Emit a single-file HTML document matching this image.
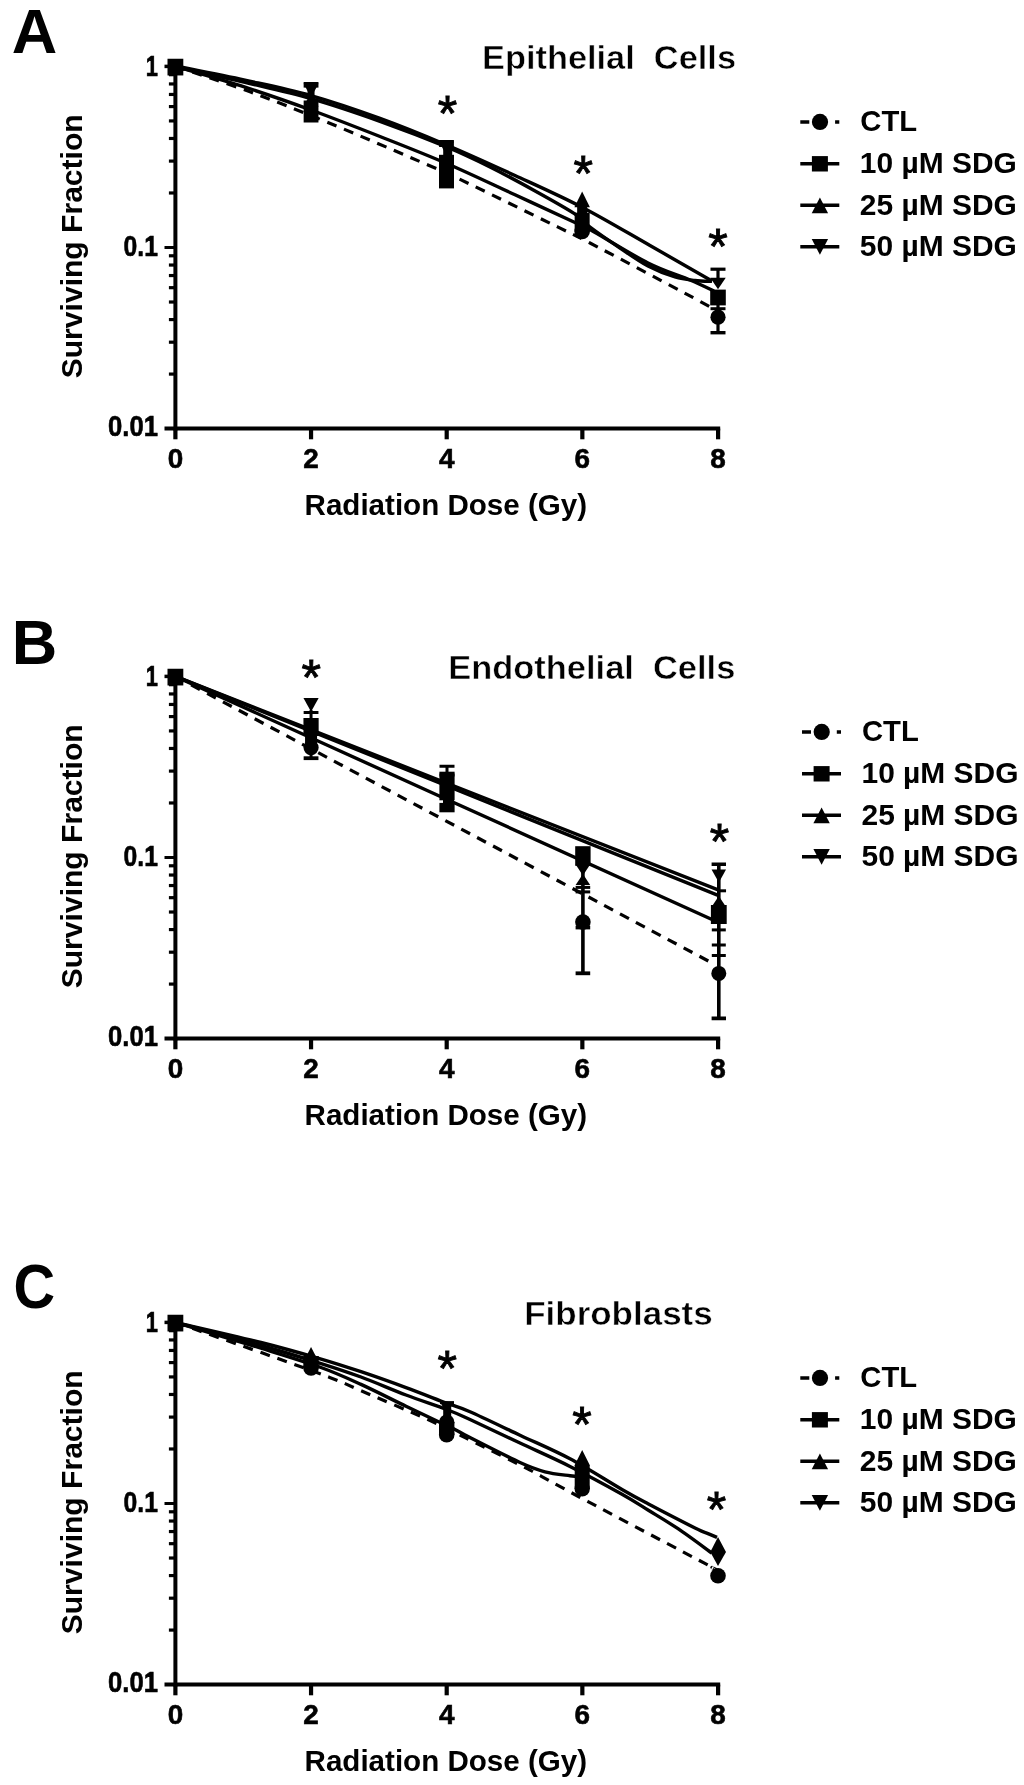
<!DOCTYPE html><html><head><meta charset="utf-8"><title>Surviving Fraction</title>
<style>html,body{margin:0;padding:0;background:#fff;width:1024px;height:1785px;overflow:hidden}svg{display:block;will-change:transform;opacity:0.999;filter:blur(0.6px)}</style></head><body>
<svg width="1024" height="1785" viewBox="0 0 1024 1785" font-family="Liberation Sans, Arial, Helvetica, sans-serif" fill="#000">
<rect width="1024" height="1785" fill="#fff"/>
<g transform="translate(0 0)">
<text x="11.80" y="52.70" font-size="63.00" font-weight="bold" text-anchor="start" >A</text>
<path d="M175.40 64.60 V430.60" stroke="#000" stroke-width="4" fill="none"/>
<path d="M164.50 428.60 H720.20" stroke="#000" stroke-width="4" fill="none"/>
<path d="M164.5 66.40 H175.40" stroke="#000" stroke-width="3.5" fill="none"/>
<path d="M164.5 247.50 H175.40" stroke="#000" stroke-width="3.0" fill="none"/>
<path d="M168.9 192.98 H175.40" stroke="#000" stroke-width="3.2" fill="none"/>
<path d="M168.9 161.09 H175.40" stroke="#000" stroke-width="3.2" fill="none"/>
<path d="M168.9 138.47 H175.40" stroke="#000" stroke-width="3.2" fill="none"/>
<path d="M168.9 120.92 H175.40" stroke="#000" stroke-width="3.2" fill="none"/>
<path d="M168.9 106.58 H175.40" stroke="#000" stroke-width="3.2" fill="none"/>
<path d="M168.9 94.45 H175.40" stroke="#000" stroke-width="3.2" fill="none"/>
<path d="M168.9 83.95 H175.40" stroke="#000" stroke-width="3.2" fill="none"/>
<path d="M168.9 74.69 H175.40" stroke="#000" stroke-width="3.2" fill="none"/>
<path d="M168.9 374.08 H175.40" stroke="#000" stroke-width="3.2" fill="none"/>
<path d="M168.9 342.19 H175.40" stroke="#000" stroke-width="3.2" fill="none"/>
<path d="M168.9 319.57 H175.40" stroke="#000" stroke-width="3.2" fill="none"/>
<path d="M168.9 302.02 H175.40" stroke="#000" stroke-width="3.2" fill="none"/>
<path d="M168.9 287.68 H175.40" stroke="#000" stroke-width="3.2" fill="none"/>
<path d="M168.9 275.55 H175.40" stroke="#000" stroke-width="3.2" fill="none"/>
<path d="M168.9 265.05 H175.40" stroke="#000" stroke-width="3.2" fill="none"/>
<path d="M168.9 255.79 H175.40" stroke="#000" stroke-width="3.2" fill="none"/>
<path d="M175.40 428.60 V439.30" stroke="#000" stroke-width="4.2" fill="none"/>
<text x="175.40" y="467.90" font-size="28.20" font-weight="bold" text-anchor="middle" textLength="15.50" lengthAdjust="spacingAndGlyphs" stroke="#000" stroke-width="0.6">0</text>
<path d="M311.05 428.60 V439.30" stroke="#000" stroke-width="4.2" fill="none"/>
<text x="311.05" y="467.90" font-size="28.20" font-weight="bold" text-anchor="middle" textLength="15.50" lengthAdjust="spacingAndGlyphs" stroke="#000" stroke-width="0.6">2</text>
<path d="M446.70 428.60 V439.30" stroke="#000" stroke-width="4.2" fill="none"/>
<text x="446.70" y="467.90" font-size="28.20" font-weight="bold" text-anchor="middle" textLength="15.50" lengthAdjust="spacingAndGlyphs" stroke="#000" stroke-width="0.6">4</text>
<path d="M582.35 428.60 V439.30" stroke="#000" stroke-width="4.2" fill="none"/>
<text x="582.35" y="467.90" font-size="28.20" font-weight="bold" text-anchor="middle" textLength="15.50" lengthAdjust="spacingAndGlyphs" stroke="#000" stroke-width="0.6">6</text>
<path d="M718.10 428.60 V439.30" stroke="#000" stroke-width="4.2" fill="none"/>
<text x="718.00" y="467.90" font-size="28.20" font-weight="bold" text-anchor="middle" textLength="15.50" lengthAdjust="spacingAndGlyphs" stroke="#000" stroke-width="0.6">8</text>
<text x="157.90" y="75.80" font-size="29.60" font-weight="bold" text-anchor="end" textLength="12.20" lengthAdjust="spacingAndGlyphs" stroke="#000" stroke-width="0.6">1</text>
<text x="157.90" y="255.60" font-size="29.60" font-weight="bold" text-anchor="end" textLength="34.30" lengthAdjust="spacingAndGlyphs" stroke="#000" stroke-width="0.6">0.1</text>
<text x="157.90" y="436.40" font-size="29.60" font-weight="bold" text-anchor="end" textLength="49.90" lengthAdjust="spacingAndGlyphs" stroke="#000" stroke-width="0.6">0.01</text>
<text x="0.00" y="0.00" font-size="30.40" font-weight="bold" text-anchor="middle" textLength="264.00" lengthAdjust="spacingAndGlyphs" transform="translate(81.6 246.3) rotate(-90)">Surviving Fraction</text>
<text x="445.80" y="515.00" font-size="29.60" font-weight="bold" text-anchor="middle" textLength="282.50" lengthAdjust="spacingAndGlyphs" >Radiation Dose (Gy)</text>
<g transform="translate(0.00 0)">
<path d="M800.3 121.90 H839.3" stroke="#000" stroke-width="3.5" stroke-dasharray="9 8.4" fill="none"/>
<circle cx="820.00" cy="121.90" r="8.10"/>
<text x="860.30" y="131.30" font-size="29.40" font-weight="bold" text-anchor="start" textLength="56.80" lengthAdjust="spacingAndGlyphs" >CTL</text>
<path d="M800.3 163.70 H839.3" stroke="#000" stroke-width="3.5" fill="none"/>
<rect x="811.90" y="156.10" width="16.00" height="15.40"/>
<text x="859.80" y="173.10" font-size="29.40" font-weight="bold" text-anchor="start" textLength="157.00" lengthAdjust="spacingAndGlyphs" >10 µM SDG</text>
<path d="M800.3 205.30 H839.3" stroke="#000" stroke-width="3.5" fill="none"/>
<path d="M819.90 197.60 L828.10 213.20 L811.70 213.20Z"/>
<text x="859.80" y="214.70" font-size="29.40" font-weight="bold" text-anchor="start" textLength="157.00" lengthAdjust="spacingAndGlyphs" >25 µM SDG</text>
<path d="M800.3 246.80 H839.3" stroke="#000" stroke-width="3.5" fill="none"/>
<path d="M819.90 254.80 L828.10 239.00 L811.70 239.00Z"/>
<text x="859.80" y="256.20" font-size="29.40" font-weight="bold" text-anchor="start" textLength="157.00" lengthAdjust="spacingAndGlyphs" >50 µM SDG</text>
</g>
<text x="482.00" y="69.20" font-size="33.60" font-weight="bold" text-anchor="start" textLength="254.00" lengthAdjust="spacingAndGlyphs" stroke="#fff" stroke-width="0.5" style="white-space:pre" xml:space="preserve">Epithelial  Cells</text>
<path d="M175.40 66.00 C187.00 68.37 222.40 75.27 245.00 80.20 C267.60 85.13 288.50 89.23 311.00 95.60 C333.50 101.97 357.38 110.17 380.00 118.40 C402.62 126.63 424.20 135.48 446.70 145.00 C469.20 154.52 492.45 165.13 515.00 175.50 C537.55 185.87 559.50 195.53 582.00 207.20 C604.50 218.87 628.33 233.20 650.00 245.50 C671.67 257.80 701.67 275.08 712.00 281.00" fill="none" stroke="#000" stroke-width="3.40"/>
<path d="M175.40 66.80 C187.00 69.40 222.40 77.10 245.00 82.40 C267.60 87.70 288.50 92.12 311.00 98.60 C333.50 105.08 357.38 113.23 380.00 121.30 C402.62 129.37 428.37 139.38 446.70 147.00 C465.03 154.62 475.49 159.80 490.00 167.00 C504.51 174.20 519.68 182.43 533.75 190.20 C547.82 197.97 565.02 207.47 574.40 213.60 C583.77 219.73 582.40 221.27 590.00 227.00 C597.60 232.73 610.33 241.50 620.00 248.00 C629.67 254.50 638.83 261.17 648.00 266.00 C657.17 270.83 667.17 274.58 675.00 277.00 C682.83 279.42 688.83 279.77 695.00 280.50 C701.17 281.23 709.17 281.25 712.00 281.40" fill="none" stroke="#000" stroke-width="3.40"/>
<path d="M175.40 66.40 C187.00 69.87 222.40 79.93 245.00 87.20 C267.60 94.47 288.50 101.78 311.00 110.00 C333.50 118.22 357.38 127.58 380.00 136.50 C402.62 145.42 424.20 153.78 446.70 163.50 C469.20 173.22 493.72 185.02 515.00 194.80 C536.28 204.58 561.90 216.42 574.40 222.20 C586.90 227.98 577.73 222.70 590.00 229.50 C602.27 236.30 631.33 254.58 648.00 263.00 C664.67 271.42 679.00 275.33 690.00 280.00 C701.00 284.67 710.00 289.17 714.00 291.00" fill="none" stroke="#000" stroke-width="3.40"/>
<path d="M175.40 66.40 C187.83 70.63 224.28 82.33 250.00 91.80 C275.72 101.27 300.03 111.00 329.70 123.20 C359.37 135.40 406.78 155.88 428.00 165.00 C449.22 174.12 435.40 167.58 457.00 177.90 C478.60 188.22 535.43 216.05 557.60 226.90 C579.77 237.75 569.53 232.35 590.00 243.00 C610.47 253.65 660.07 279.97 680.40 290.80 C700.73 301.63 706.73 305.13 712.00 308.00" fill="none" stroke="#000" stroke-width="3.20" stroke-dasharray="10 8"/>
<rect x="167.50" y="58.75" width="15.80" height="16.70"/>
<path d="M311.05 97.50 L318.55 83.50 L303.55 83.50Z"/>
<rect x="303.65" y="82.00" width="14.80" height="5.60"/>
<rect x="307.55" y="87.00" width="7.00" height="10.00"/>
<path d="M311.05 92.50 L318.55 106.50 L303.55 106.50Z"/>
<rect x="303.65" y="100.50" width="14.80" height="22.00"/>
<path d="M446.50 155.50 L454.00 141.50 L439.00 141.50Z"/>
<rect x="439.10" y="140.00" width="14.80" height="7.00"/>
<rect x="443.20" y="144.00" width="9.00" height="12.00"/>
<rect x="439.00" y="154.80" width="15.00" height="33.60"/>
<path d="M582.15 191.60 L589.90 207.20 L574.40 207.20Z"/>
<rect x="577.15" y="207.00" width="10.00" height="6.00"/>
<rect x="574.65" y="212.70" width="15.00" height="18.60"/>
<circle cx="582.15" cy="231.40" r="7.80"/>
<path d="M710.50 269.20 H725.50" fill="none" stroke="#000" stroke-width="3.20"/>
<path d="M718.00 269.20 V285.00" fill="none" stroke="#000" stroke-width="3.20"/>
<path d="M718.00 289.15 L725.75 277.65 L710.25 277.65Z"/>
<rect x="710.20" y="289.60" width="15.60" height="15.80"/>
<path d="M710.50 308.70 H725.50" fill="none" stroke="#000" stroke-width="3.00"/>
<circle cx="718.00" cy="317.20" r="7.60"/>
<path d="M718.00 300.00 V332.70" fill="none" stroke="#000" stroke-width="3.20"/>
<path d="M710.50 332.70 H725.50" fill="none" stroke="#000" stroke-width="3.40"/>
<text x="447.40" y="131.20" font-size="50.00" font-weight="normal" text-anchor="middle" stroke="#000" stroke-width="0.9">*</text>
<text x="583.20" y="191.30" font-size="50.00" font-weight="normal" text-anchor="middle" stroke="#000" stroke-width="0.9">*</text>
<text x="718.00" y="264.10" font-size="50.00" font-weight="normal" text-anchor="middle" stroke="#000" stroke-width="0.9">*</text>
</g>
<g transform="translate(0 610)">
<text x="11.80" y="54.20" font-size="63.00" font-weight="bold" text-anchor="start" >B</text>
<path d="M175.40 64.60 V430.60" stroke="#000" stroke-width="4" fill="none"/>
<path d="M164.50 428.60 H720.20" stroke="#000" stroke-width="4" fill="none"/>
<path d="M164.5 66.40 H175.40" stroke="#000" stroke-width="3.5" fill="none"/>
<path d="M164.5 247.50 H175.40" stroke="#000" stroke-width="3.0" fill="none"/>
<path d="M168.9 192.98 H175.40" stroke="#000" stroke-width="3.2" fill="none"/>
<path d="M168.9 161.09 H175.40" stroke="#000" stroke-width="3.2" fill="none"/>
<path d="M168.9 138.47 H175.40" stroke="#000" stroke-width="3.2" fill="none"/>
<path d="M168.9 120.92 H175.40" stroke="#000" stroke-width="3.2" fill="none"/>
<path d="M168.9 106.58 H175.40" stroke="#000" stroke-width="3.2" fill="none"/>
<path d="M168.9 94.45 H175.40" stroke="#000" stroke-width="3.2" fill="none"/>
<path d="M168.9 83.95 H175.40" stroke="#000" stroke-width="3.2" fill="none"/>
<path d="M168.9 74.69 H175.40" stroke="#000" stroke-width="3.2" fill="none"/>
<path d="M168.9 374.08 H175.40" stroke="#000" stroke-width="3.2" fill="none"/>
<path d="M168.9 342.19 H175.40" stroke="#000" stroke-width="3.2" fill="none"/>
<path d="M168.9 319.57 H175.40" stroke="#000" stroke-width="3.2" fill="none"/>
<path d="M168.9 302.02 H175.40" stroke="#000" stroke-width="3.2" fill="none"/>
<path d="M168.9 287.68 H175.40" stroke="#000" stroke-width="3.2" fill="none"/>
<path d="M168.9 275.55 H175.40" stroke="#000" stroke-width="3.2" fill="none"/>
<path d="M168.9 265.05 H175.40" stroke="#000" stroke-width="3.2" fill="none"/>
<path d="M168.9 255.79 H175.40" stroke="#000" stroke-width="3.2" fill="none"/>
<path d="M175.40 428.60 V439.30" stroke="#000" stroke-width="4.2" fill="none"/>
<text x="175.40" y="467.90" font-size="28.20" font-weight="bold" text-anchor="middle" textLength="15.50" lengthAdjust="spacingAndGlyphs" stroke="#000" stroke-width="0.6">0</text>
<path d="M311.05 428.60 V439.30" stroke="#000" stroke-width="4.2" fill="none"/>
<text x="311.05" y="467.90" font-size="28.20" font-weight="bold" text-anchor="middle" textLength="15.50" lengthAdjust="spacingAndGlyphs" stroke="#000" stroke-width="0.6">2</text>
<path d="M446.70 428.60 V439.30" stroke="#000" stroke-width="4.2" fill="none"/>
<text x="446.70" y="467.90" font-size="28.20" font-weight="bold" text-anchor="middle" textLength="15.50" lengthAdjust="spacingAndGlyphs" stroke="#000" stroke-width="0.6">4</text>
<path d="M582.35 428.60 V439.30" stroke="#000" stroke-width="4.2" fill="none"/>
<text x="582.35" y="467.90" font-size="28.20" font-weight="bold" text-anchor="middle" textLength="15.50" lengthAdjust="spacingAndGlyphs" stroke="#000" stroke-width="0.6">6</text>
<path d="M718.10 428.60 V439.30" stroke="#000" stroke-width="4.2" fill="none"/>
<text x="718.00" y="467.90" font-size="28.20" font-weight="bold" text-anchor="middle" textLength="15.50" lengthAdjust="spacingAndGlyphs" stroke="#000" stroke-width="0.6">8</text>
<text x="157.90" y="75.80" font-size="29.60" font-weight="bold" text-anchor="end" textLength="12.20" lengthAdjust="spacingAndGlyphs" stroke="#000" stroke-width="0.6">1</text>
<text x="157.90" y="255.60" font-size="29.60" font-weight="bold" text-anchor="end" textLength="34.30" lengthAdjust="spacingAndGlyphs" stroke="#000" stroke-width="0.6">0.1</text>
<text x="157.90" y="436.40" font-size="29.60" font-weight="bold" text-anchor="end" textLength="49.90" lengthAdjust="spacingAndGlyphs" stroke="#000" stroke-width="0.6">0.01</text>
<text x="0.00" y="0.00" font-size="30.40" font-weight="bold" text-anchor="middle" textLength="264.00" lengthAdjust="spacingAndGlyphs" transform="translate(81.6 246.3) rotate(-90)">Surviving Fraction</text>
<text x="445.80" y="515.00" font-size="29.60" font-weight="bold" text-anchor="middle" textLength="282.50" lengthAdjust="spacingAndGlyphs" >Radiation Dose (Gy)</text>
<g transform="translate(1.70 0)">
<path d="M800.3 121.90 H839.3" stroke="#000" stroke-width="3.5" stroke-dasharray="9 8.4" fill="none"/>
<circle cx="820.00" cy="121.90" r="8.10"/>
<text x="860.30" y="131.30" font-size="29.40" font-weight="bold" text-anchor="start" textLength="56.80" lengthAdjust="spacingAndGlyphs" >CTL</text>
<path d="M800.3 163.70 H839.3" stroke="#000" stroke-width="3.5" fill="none"/>
<rect x="811.90" y="156.10" width="16.00" height="15.40"/>
<text x="859.80" y="173.10" font-size="29.40" font-weight="bold" text-anchor="start" textLength="157.00" lengthAdjust="spacingAndGlyphs" >10 µM SDG</text>
<path d="M800.3 205.30 H839.3" stroke="#000" stroke-width="3.5" fill="none"/>
<path d="M819.90 197.60 L828.10 213.20 L811.70 213.20Z"/>
<text x="859.80" y="214.70" font-size="29.40" font-weight="bold" text-anchor="start" textLength="157.00" lengthAdjust="spacingAndGlyphs" >25 µM SDG</text>
<path d="M800.3 246.80 H839.3" stroke="#000" stroke-width="3.5" fill="none"/>
<path d="M819.90 254.80 L828.10 239.00 L811.70 239.00Z"/>
<text x="859.80" y="256.20" font-size="29.40" font-weight="bold" text-anchor="start" textLength="157.00" lengthAdjust="spacingAndGlyphs" >50 µM SDG</text>
</g>
<text x="448.30" y="69.40" font-size="33.60" font-weight="bold" text-anchor="start" textLength="287.00" lengthAdjust="spacingAndGlyphs" stroke="#fff" stroke-width="0.5" style="white-space:pre" xml:space="preserve">Endothelial  Cells</text>
<path d="M175.40 66.40 C265.75 101.93 627.15 244.07 717.50 279.61" fill="none" stroke="#000" stroke-width="3.40"/>
<path d="M175.40 66.40 C265.75 102.85 627.15 248.64 717.50 285.08" fill="none" stroke="#000" stroke-width="3.40"/>
<path d="M175.40 66.40 C264.83 106.91 622.57 268.97 712.00 309.48" fill="none" stroke="#000" stroke-width="3.40"/>
<path d="M175.40 66.40 C264.50 113.98 620.90 304.30 710.00 351.88" fill="none" stroke="#000" stroke-width="3.20" stroke-dasharray="10 8"/>
<rect x="167.50" y="58.75" width="15.80" height="16.70"/>
<path d="M311.05 101.80 L318.65 88.00 L303.45 88.00Z"/>
<path d="M303.65 102.50 H318.45" fill="none" stroke="#000" stroke-width="3.00"/>
<path d="M311.05 100.00 V148.00" fill="none" stroke="#000" stroke-width="3.00"/>
<rect x="303.45" y="108.00" width="15.20" height="18.00"/>
<circle cx="311.05" cy="137.60" r="7.60"/>
<rect x="305.05" y="125.00" width="12.00" height="12.00"/>
<path d="M303.65 148.20 H318.45" fill="none" stroke="#000" stroke-width="3.80"/>
<path d="M447.00 156.20 V165.00 M439.50 156.20 H454.50 M439.50 165.00 H454.50" fill="none" stroke="#000" stroke-width="3.00"/>
<rect x="439.40" y="161.70" width="15.20" height="28.60"/>
<rect x="443.00" y="188.00" width="11.00" height="6.00"/>
<rect x="439.40" y="192.90" width="15.20" height="9.40"/>
<rect x="575.20" y="236.20" width="15.40" height="19.60"/>
<path d="M582.90 265.50 L590.15 254.50 L575.65 254.50Z"/>
<path d="M582.90 264.00 L590.15 275.00 L575.65 275.00Z"/>
<path d="M575.60 277.40 H590.20" fill="none" stroke="#000" stroke-width="3.00"/>
<path d="M575.60 281.90 H590.20" fill="none" stroke="#000" stroke-width="3.00"/>
<path d="M582.90 262.00 V363.30" fill="none" stroke="#000" stroke-width="3.60"/>
<path d="M575.60 363.30 H590.20" fill="none" stroke="#000" stroke-width="3.80"/>
<circle cx="582.90" cy="312.00" r="7.80"/>
<path d="M575.60 317.60 H590.20" fill="none" stroke="#000" stroke-width="3.60"/>
<path d="M718.80 254.30 V408.40 M711.60 254.30 H726.00 M711.60 408.40 H726.00" fill="none" stroke="#000" stroke-width="3.60"/>
<path d="M718.80 272.50 L726.05 259.50 L711.55 259.50Z"/>
<path d="M718.55 280.80 H726.05" fill="none" stroke="#000" stroke-width="3.00"/>
<path d="M718.80 286.00 L726.05 297.00 L711.55 297.00Z"/>
<rect x="710.90" y="295.00" width="15.80" height="19.00"/>
<path d="M711.80 319.90 H725.80" fill="none" stroke="#000" stroke-width="3.00"/>
<path d="M711.80 335.00 H725.80" fill="none" stroke="#000" stroke-width="3.00"/>
<path d="M711.80 345.50 H725.80" fill="none" stroke="#000" stroke-width="3.00"/>
<circle cx="718.80" cy="363.40" r="7.50"/>
<text x="311.20" y="85.10" font-size="50.00" font-weight="normal" text-anchor="middle" stroke="#000" stroke-width="0.9">*</text>
<text x="719.40" y="248.90" font-size="50.00" font-weight="normal" text-anchor="middle" stroke="#000" stroke-width="0.9">*</text>
</g>
<g transform="translate(0 1256)">
<text x="13.60" y="51.80" font-size="63.00" font-weight="bold" text-anchor="start" textLength="41.60" lengthAdjust="spacingAndGlyphs" >C</text>
<path d="M175.40 64.60 V430.60" stroke="#000" stroke-width="4" fill="none"/>
<path d="M164.50 428.60 H720.20" stroke="#000" stroke-width="4" fill="none"/>
<path d="M164.5 66.40 H175.40" stroke="#000" stroke-width="3.5" fill="none"/>
<path d="M164.5 247.50 H175.40" stroke="#000" stroke-width="3.0" fill="none"/>
<path d="M168.9 192.98 H175.40" stroke="#000" stroke-width="3.2" fill="none"/>
<path d="M168.9 161.09 H175.40" stroke="#000" stroke-width="3.2" fill="none"/>
<path d="M168.9 138.47 H175.40" stroke="#000" stroke-width="3.2" fill="none"/>
<path d="M168.9 120.92 H175.40" stroke="#000" stroke-width="3.2" fill="none"/>
<path d="M168.9 106.58 H175.40" stroke="#000" stroke-width="3.2" fill="none"/>
<path d="M168.9 94.45 H175.40" stroke="#000" stroke-width="3.2" fill="none"/>
<path d="M168.9 83.95 H175.40" stroke="#000" stroke-width="3.2" fill="none"/>
<path d="M168.9 74.69 H175.40" stroke="#000" stroke-width="3.2" fill="none"/>
<path d="M168.9 374.08 H175.40" stroke="#000" stroke-width="3.2" fill="none"/>
<path d="M168.9 342.19 H175.40" stroke="#000" stroke-width="3.2" fill="none"/>
<path d="M168.9 319.57 H175.40" stroke="#000" stroke-width="3.2" fill="none"/>
<path d="M168.9 302.02 H175.40" stroke="#000" stroke-width="3.2" fill="none"/>
<path d="M168.9 287.68 H175.40" stroke="#000" stroke-width="3.2" fill="none"/>
<path d="M168.9 275.55 H175.40" stroke="#000" stroke-width="3.2" fill="none"/>
<path d="M168.9 265.05 H175.40" stroke="#000" stroke-width="3.2" fill="none"/>
<path d="M168.9 255.79 H175.40" stroke="#000" stroke-width="3.2" fill="none"/>
<path d="M175.40 428.60 V439.30" stroke="#000" stroke-width="4.2" fill="none"/>
<text x="175.40" y="467.90" font-size="28.20" font-weight="bold" text-anchor="middle" textLength="15.50" lengthAdjust="spacingAndGlyphs" stroke="#000" stroke-width="0.6">0</text>
<path d="M311.05 428.60 V439.30" stroke="#000" stroke-width="4.2" fill="none"/>
<text x="311.05" y="467.90" font-size="28.20" font-weight="bold" text-anchor="middle" textLength="15.50" lengthAdjust="spacingAndGlyphs" stroke="#000" stroke-width="0.6">2</text>
<path d="M446.70 428.60 V439.30" stroke="#000" stroke-width="4.2" fill="none"/>
<text x="446.70" y="467.90" font-size="28.20" font-weight="bold" text-anchor="middle" textLength="15.50" lengthAdjust="spacingAndGlyphs" stroke="#000" stroke-width="0.6">4</text>
<path d="M582.35 428.60 V439.30" stroke="#000" stroke-width="4.2" fill="none"/>
<text x="582.35" y="467.90" font-size="28.20" font-weight="bold" text-anchor="middle" textLength="15.50" lengthAdjust="spacingAndGlyphs" stroke="#000" stroke-width="0.6">6</text>
<path d="M718.10 428.60 V439.30" stroke="#000" stroke-width="4.2" fill="none"/>
<text x="718.00" y="467.90" font-size="28.20" font-weight="bold" text-anchor="middle" textLength="15.50" lengthAdjust="spacingAndGlyphs" stroke="#000" stroke-width="0.6">8</text>
<text x="157.90" y="75.80" font-size="29.60" font-weight="bold" text-anchor="end" textLength="12.20" lengthAdjust="spacingAndGlyphs" stroke="#000" stroke-width="0.6">1</text>
<text x="157.90" y="255.60" font-size="29.60" font-weight="bold" text-anchor="end" textLength="34.30" lengthAdjust="spacingAndGlyphs" stroke="#000" stroke-width="0.6">0.1</text>
<text x="157.90" y="436.40" font-size="29.60" font-weight="bold" text-anchor="end" textLength="49.90" lengthAdjust="spacingAndGlyphs" stroke="#000" stroke-width="0.6">0.01</text>
<text x="0.00" y="0.00" font-size="30.40" font-weight="bold" text-anchor="middle" textLength="264.00" lengthAdjust="spacingAndGlyphs" transform="translate(81.6 246.3) rotate(-90)">Surviving Fraction</text>
<text x="445.80" y="515.00" font-size="29.60" font-weight="bold" text-anchor="middle" textLength="282.50" lengthAdjust="spacingAndGlyphs" >Radiation Dose (Gy)</text>
<g transform="translate(0.00 0)">
<path d="M800.3 121.90 H839.3" stroke="#000" stroke-width="3.5" stroke-dasharray="9 8.4" fill="none"/>
<circle cx="820.00" cy="121.90" r="8.10"/>
<text x="860.30" y="131.30" font-size="29.40" font-weight="bold" text-anchor="start" textLength="56.80" lengthAdjust="spacingAndGlyphs" >CTL</text>
<path d="M800.3 163.70 H839.3" stroke="#000" stroke-width="3.5" fill="none"/>
<rect x="811.90" y="156.10" width="16.00" height="15.40"/>
<text x="859.80" y="173.10" font-size="29.40" font-weight="bold" text-anchor="start" textLength="157.00" lengthAdjust="spacingAndGlyphs" >10 µM SDG</text>
<path d="M800.3 205.30 H839.3" stroke="#000" stroke-width="3.5" fill="none"/>
<path d="M819.90 197.60 L828.10 213.20 L811.70 213.20Z"/>
<text x="859.80" y="214.70" font-size="29.40" font-weight="bold" text-anchor="start" textLength="157.00" lengthAdjust="spacingAndGlyphs" >25 µM SDG</text>
<path d="M800.3 246.80 H839.3" stroke="#000" stroke-width="3.5" fill="none"/>
<path d="M819.90 254.80 L828.10 239.00 L811.70 239.00Z"/>
<text x="859.80" y="256.20" font-size="29.40" font-weight="bold" text-anchor="start" textLength="157.00" lengthAdjust="spacingAndGlyphs" >50 µM SDG</text>
</g>
<text x="524.20" y="68.70" font-size="33.60" font-weight="bold" text-anchor="start" textLength="188.50" lengthAdjust="spacingAndGlyphs" stroke="#fff" stroke-width="0.5" style="white-space:pre" xml:space="preserve">Fibroblasts</text>
<path d="M175.40 66.40 C189.67 69.75 236.85 80.43 261.00 86.50 C285.15 92.57 303.63 97.93 320.30 102.80 C336.97 107.67 346.72 110.90 361.00 115.70 C375.28 120.50 391.72 126.35 406.00 131.60 C420.28 136.85 436.03 143.18 446.70 147.20 C457.37 151.22 457.78 150.37 470.00 155.70 C482.22 161.03 503.33 171.35 520.00 179.20 C536.67 187.05 553.00 193.75 570.00 202.80 C587.00 211.85 609.00 226.00 622.00 233.50 C635.00 241.00 635.83 241.38 648.00 247.80 C660.17 254.22 685.00 267.03 695.00 272.00 C705.00 276.97 704.33 276.03 708.00 277.60 C711.67 279.17 715.50 280.77 717.00 281.40" fill="none" stroke="#000" stroke-width="3.40"/>
<path d="M175.40 66.40 C189.67 70.25 236.85 82.68 261.00 89.50 C285.15 96.32 303.63 102.05 320.30 107.30 C336.97 112.55 346.72 115.72 361.00 121.00 C375.28 126.28 391.72 133.58 406.00 139.00 C420.28 144.42 436.03 149.42 446.70 153.50 C457.37 157.58 457.78 157.92 470.00 163.50 C482.22 169.08 503.33 179.18 520.00 187.00 C536.67 194.82 553.00 201.87 570.00 210.40 C587.00 218.93 609.00 230.93 622.00 238.20 C635.00 245.47 638.67 248.25 648.00 254.00 C657.33 259.75 667.38 265.53 678.00 272.70 C688.62 279.87 706.08 292.95 711.70 297.00" fill="none" stroke="#000" stroke-width="3.40"/>
<path d="M175.40 66.40 C189.67 70.70 236.85 84.73 261.00 92.20 C285.15 99.67 303.63 105.22 320.30 111.25 C336.97 117.28 346.72 121.89 361.00 128.40 C375.28 134.91 393.17 144.12 406.00 150.30 C418.83 156.48 429.83 161.65 438.00 165.50 C446.17 169.35 449.67 170.72 455.00 173.40 C460.33 176.08 459.17 176.08 470.00 181.60 C480.83 187.12 507.50 200.80 520.00 206.50 C532.50 212.20 536.67 213.60 545.00 215.80 C553.33 218.00 563.83 218.87 570.00 219.70 C576.17 220.53 580.00 220.62 582.00 220.80" fill="none" stroke="#000" stroke-width="3.40"/>
<path d="M175.40 66.40 C190.17 71.60 238.28 88.43 264.00 97.60 C289.72 106.77 313.53 115.22 329.70 121.40 C345.87 127.58 344.62 127.67 361.00 134.70 C377.38 141.73 411.45 156.18 428.00 163.60 C444.55 171.02 452.30 175.30 460.30 179.20 C468.30 183.10 465.27 181.63 476.00 187.00 C486.73 192.37 513.98 205.95 524.70 211.40 C535.42 216.85 529.75 214.00 540.30 219.70 C550.85 225.40 560.65 231.02 588.00 245.60 C615.35 260.18 683.73 296.22 704.40 307.20 C725.07 318.18 710.73 310.78 712.00 311.50" fill="none" stroke="#000" stroke-width="3.20" stroke-dasharray="10 8"/>
<rect x="167.50" y="58.75" width="15.80" height="16.70"/>
<path d="M311.05 91.00 L318.80 106.00 L303.30 106.00Z"/>
<rect x="303.35" y="100.00" width="15.40" height="12.00"/>
<circle cx="311.05" cy="111.90" r="7.80"/>
<path d="M440.00 146.60 H454.00" fill="none" stroke="#000" stroke-width="3.00"/>
<path d="M447.00 158.00 L454.00 146.00 L440.00 146.00Z"/>
<rect x="443.20" y="150.00" width="8.00" height="12.00"/>
<rect x="439.00" y="166.00" width="15.40" height="13.00"/>
<circle cx="446.70" cy="166.30" r="7.70"/>
<circle cx="446.70" cy="178.80" r="7.80"/>
<path d="M582.20 194.00 L589.95 209.60 L574.45 209.60Z"/>
<rect x="574.70" y="209.00" width="15.00" height="24.00"/>
<circle cx="582.20" cy="232.80" r="7.70"/>
<path d="M718 281 L726 295.9 L718 310 L710.3 295.9Z"/>
<circle cx="718.00" cy="319.80" r="7.80"/>
<text x="447.30" y="130.10" font-size="50.00" font-weight="normal" text-anchor="middle" stroke="#000" stroke-width="0.9">*</text>
<text x="582.00" y="185.60" font-size="50.00" font-weight="normal" text-anchor="middle" stroke="#000" stroke-width="0.9">*</text>
<text x="716.60" y="271.20" font-size="50.00" font-weight="normal" text-anchor="middle" stroke="#000" stroke-width="0.9">*</text>
</g>
</svg></body></html>
